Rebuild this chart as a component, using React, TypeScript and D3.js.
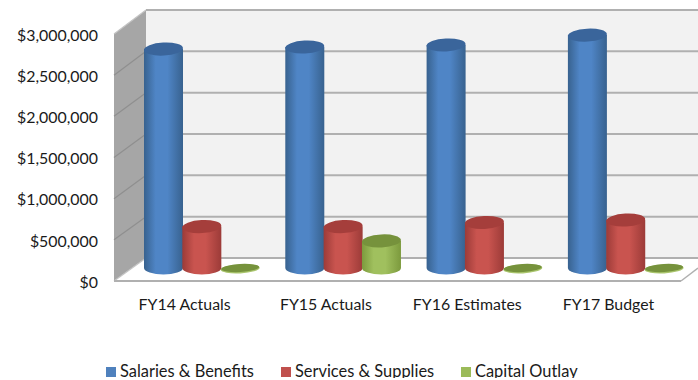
import React from "react";
import * as d3 from "d3";

const categories = ["FY14 Actuals", "FY15 Actuals", "FY16 Estimates", "FY17 Budget"];
const seriesNames = ["Salaries & Benefits", "Services & Supplies", "Capital Outlay"];
const salaries = [2670000, 2695000, 2720000, 2840000];
const services = [505000, 505000, 555000, 585000];
const capital = [0, 330000, 0, 0];
const ticks = [0, 500000, 1000000, 1500000, 2000000, 2500000, 3000000];

const seriesValues = [salaries, services, capital];
const palettes = [
  { edge: "#38628f", mid: "#4f85c6", top: "#3a659b", swatch: "#4f81bd" },
  { edge: "#9c3b38", mid: "#c9544f", top: "#a53e3b", swatch: "#c0504d" },
  { edge: "#7c9a3d", mid: "#a0c05e", top: "#76923c", swatch: "#9bbb59" },
];

const W = 698;
const H = 380;
const font = "Lato, 'Noto Sans', sans-serif";

// The 3D box: the same value maps to different heights on the front edge,
// on the back wall and at the depth where the cylinders stand.
const yFront = d3.scaleLinear().domain([0, 3000000]).range([281, 34]);
const yBack = d3.scaleLinear().domain([0, 3000000]).range([258, 10]);
const yBar = d3.scaleLinear().domain([0, 3000000]).range([268, 22]);

const xFront = d3.scaleBand<string>().domain(categories).range([114, 679.2]);
const xSeries = d3.scaleBand<string>().domain(seriesNames).range([0, 115]);
const depthShift = 17;
const radiusY = 6.5;
const tilt = -3;

const money = (v: number) => "$" + d3.format(",")(v);

export default function App() {
  const left = yFront.range()[0];
  const backFloor = yBack(0);
  const grid = "#b0b0b0";
  return (
    <svg
      width={W}
      height={H}
      viewBox={`0 0 ${W} ${H}`}
      style={{ position: "absolute", left: 0, top: 0, display: "block", background: "#fff" }}
    >
      <defs>
        {palettes.map((p, i) => (
          <linearGradient key={i} id={`cyl${i}`} x1="0" x2="1" y1="0" y2="0">
            <stop offset="0" stopColor={p.edge} />
            <stop offset="0.3" stopColor={p.mid} />
            <stop offset="0.6" stopColor={p.mid} />
            <stop offset="1" stopColor={p.edge} />
          </linearGradient>
        ))}
        <clipPath id="page">
          <rect x={0} y={0} width={W} height={378} />
        </clipPath>
      </defs>

      {/* back wall, side wall, floor */}
      <rect x={146} y={yBack(3000000)} width={W - 146} height={backFloor - yBack(3000000)} fill="#f2f2f2" />
      <polygon
        points={`114,${yFront(3000000)} 146,${yBack(3000000)} 146,${backFloor} 114,${left}`}
        fill="#a6a6a6"
      />
      <polygon points={`114,${left} 146,${backFloor} ${W},${backFloor} ${W},268 681,${left}`} fill="#fff" />

      {/* gridlines run along the side wall and across the back wall */}
      {ticks.map((t) => (
        <g key={t}>
          <line x1={114} x2={146} y1={yFront(t)} y2={yBack(t)} stroke={t === 0 || t === 3000000 ? "#c4c4c4" : "#8f8f8f"} strokeWidth={1.2} />
          <line x1={146} x2={W} y1={yBack(t)} y2={yBack(t)} stroke={grid} strokeWidth={2} />
        </g>
      ))}
      <line x1={114} x2={681} y1={left} y2={left} stroke={grid} strokeWidth={2} />
      <line x1={681} x2={W} y1={left} y2={268} stroke={grid} strokeWidth={1.5} />

      {/* cylinders, drawn series by series within each group */}
      {categories.map((c, ci) =>
        seriesNames.map((s, si) => {
          const v = seriesValues[si][ci];
          const x0 = xFront(c)! + depthShift + 13 + xSeries(s)!;
          const w = 39;
          const cx = x0 + w / 2;
          const rx = w / 2;
          const yTop = yBar(v);
          const yBase = yBar(0);
          const p = palettes[si];
          if (v === 0) {
            return (
              <g key={s}>
                <ellipse cx={cx} cy={yBase + 0.8} rx={rx} ry={4.6} fill="#a9c56c" transform={`rotate(${tilt} ${cx} ${yBase})`} />
                <ellipse cx={cx} cy={yBase} rx={rx - 0.5} ry={4} fill={p.top} transform={`rotate(${tilt} ${cx} ${yBase})`} />
              </g>
            );
          }
          const body = `M${x0},${yTop} L${x0},${yBase} A${rx},${radiusY} 0 0 0 ${x0 + w},${yBase} L${x0 + w},${yTop} Z`;
          return (
            <g key={s}>
              <path d={body} fill={`url(#cyl${si})`} />
              <ellipse cx={cx} cy={yTop} rx={rx} ry={radiusY} fill={p.top} transform={`rotate(${tilt} ${cx} ${yTop})`} />
            </g>
          );
        })
      )}

      {/* value axis labels */}
      {ticks.map((t) => (
        <text key={t} x={98} y={yFront(t)} dy="0.42em" textAnchor="end" fontFamily={font} fontSize={15.9} fill="#1a1a1a">
          {money(t)}
        </text>
      ))}

      {/* category labels */}
      {categories.map((c) => (
        <text key={c} x={xFront(c)! + xFront.bandwidth() / 2} y={310} textAnchor="middle" fontFamily={font} fontSize={15.9} fill="#1a1a1a">
          {c}
        </text>
      ))}

      {/* legend, cut off at the lower edge */}
      <g clipPath="url(#page)">
        {seriesNames.map((s, i) => {
          const lx = [106, 281, 461][i];
          return (
            <g key={s}>
              <rect x={lx} y={367} width={10} height={10} fill={palettes[i].swatch} />
              <text x={lx + 14} y={377} fontFamily={font} fontSize={16.4} fill="#1a1a1a">
                {s}
              </text>
            </g>
          );
        })}
      </g>
    </svg>
  );
}
